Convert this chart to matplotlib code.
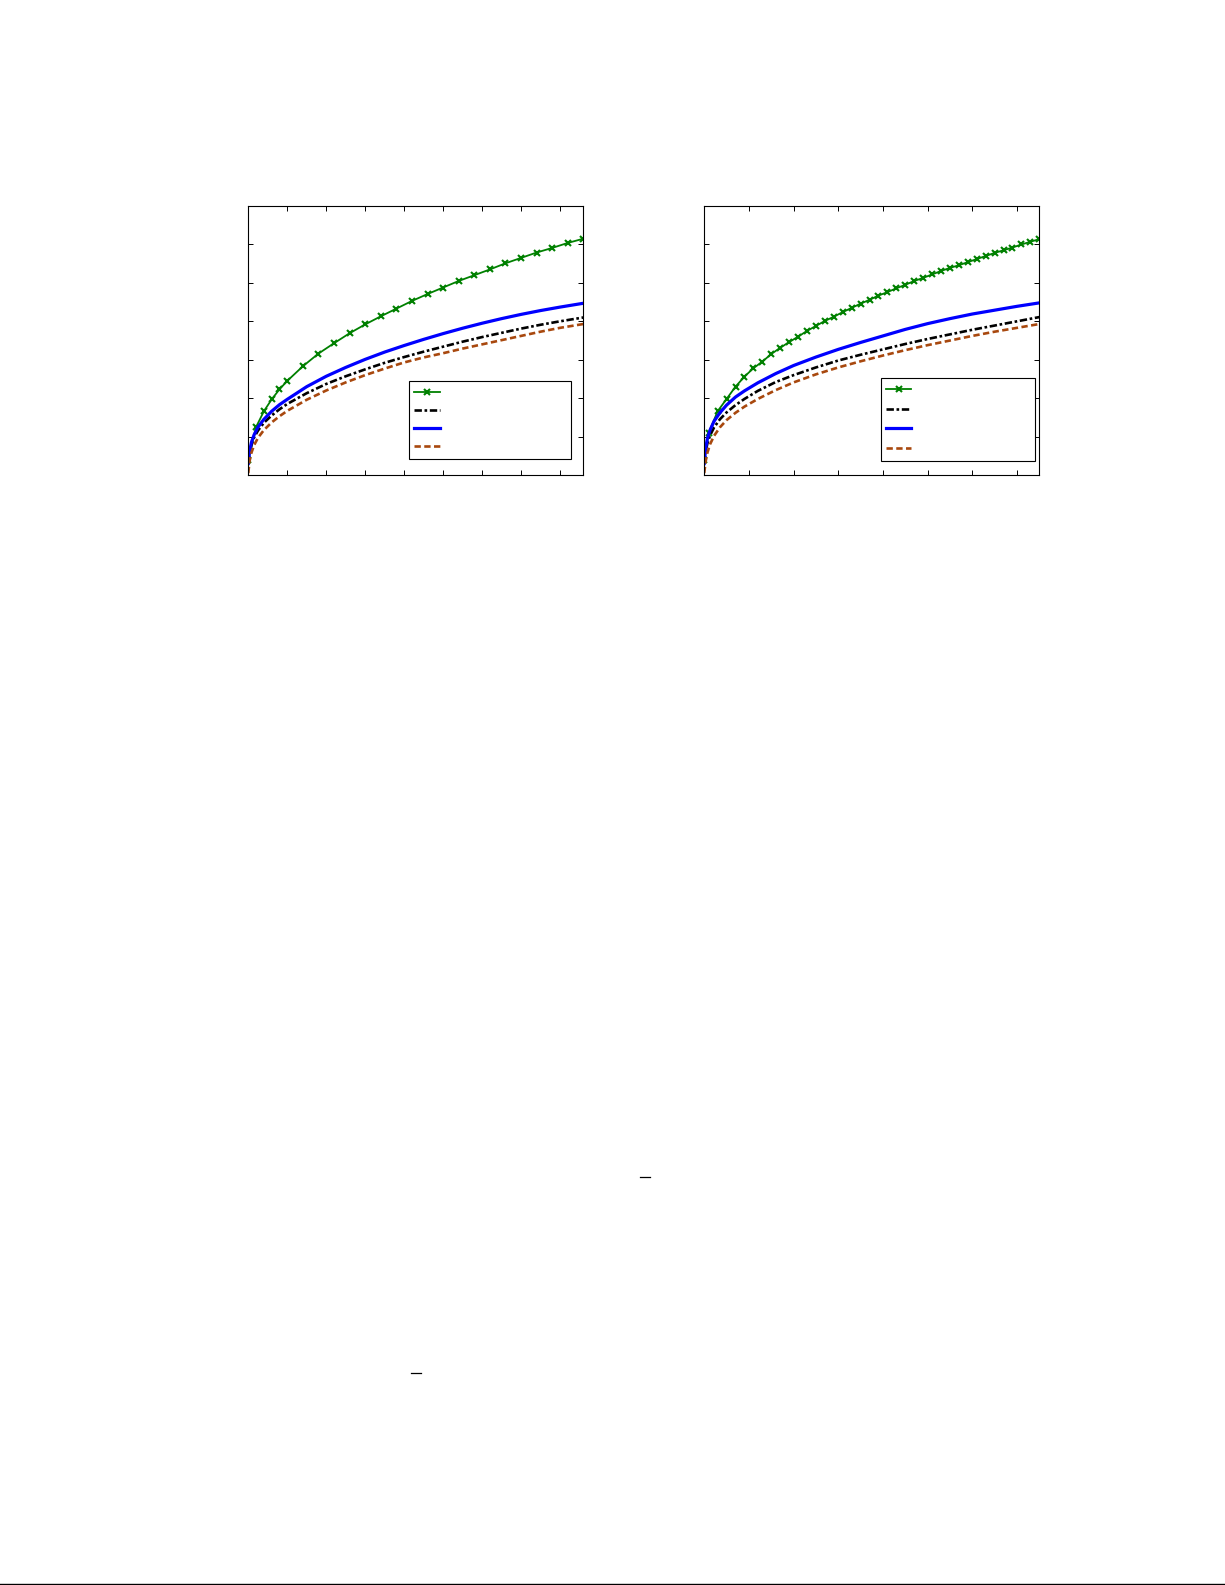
# %%
# Two growth-curve panels, page-style layout (labels stripped)
import matplotlib.pyplot as plt
from matplotlib.lines import Line2D

# left panel, x axis runs 0..8.6
x_green_l = [0, 0.2, 0.4, 0.6, 0.8, 1.0, 1.4, 1.8, 2.2, 2.6, 3.0, 3.4, 3.8,
             4.2, 4.6, 5.0, 5.4, 5.8, 6.2, 6.6, 7.0, 7.4, 7.8, 8.2, 8.6]
green_l = [0.4, 1.25, 1.66, 1.97, 2.23, 2.45, 2.83, 3.16, 3.43, 3.69, 3.92, 4.13, 4.33,
           4.53, 4.71, 4.88, 5.05, 5.20, 5.35, 5.51, 5.65, 5.79, 5.91, 6.04, 6.15]

x_curve_l = [0, 0.03, 0.08, 0.15, 0.25, 0.4, 0.6, 0.8, 1.0, 1.5, 2.0, 2.5, 3.0, 3.5,
             4.0, 4.5, 5.0, 5.5, 6.0, 6.5, 7.0, 7.5, 8.0, 8.6]
blue_l = [0.3, 0.6, 0.85, 1.05, 1.25, 1.45, 1.66, 1.83, 1.97, 2.3, 2.57, 2.8, 3.01, 3.2,
          3.37, 3.53, 3.68, 3.82, 3.95, 4.07, 4.18, 4.28, 4.37, 4.47]
black_l = [0.3, 0.55, 0.78, 0.98, 1.16, 1.36, 1.55, 1.71, 1.85, 2.13, 2.37, 2.57, 2.75, 2.92,
           3.07, 3.21, 3.34, 3.47, 3.59, 3.7, 3.81, 3.91, 4.0, 4.1]
orange_l = [0.05, 0.35, 0.58, 0.78, 0.97, 1.17, 1.37, 1.53, 1.67, 1.96, 2.2, 2.41, 2.6, 2.77,
            2.93, 3.06, 3.17, 3.29, 3.4, 3.51, 3.62, 3.73, 3.83, 3.93]

# right panel, x axis runs 0..7.5
x_green_r = [0, 0.1, 0.3, 0.5, 0.7, 0.9, 1.1, 1.3, 1.5, 1.7, 1.9, 2.1, 2.3, 2.5,
             2.7, 2.9, 3.1, 3.3, 3.5, 3.7, 3.9, 4.1, 4.3, 4.5, 4.7, 4.9, 5.1,
             5.3, 5.5, 5.7, 5.9, 6.1, 6.3, 6.5, 6.7, 6.9, 7.1, 7.3, 7.5]
green_r = [0.4, 1.1, 1.66, 1.98, 2.3, 2.56, 2.78, 2.95, 3.15, 3.31, 3.46, 3.6, 3.75, 3.88,
           4.01, 4.12, 4.24, 4.35, 4.46, 4.56, 4.67, 4.76, 4.86, 4.95, 5.05, 5.13, 5.22,
           5.31, 5.39, 5.46, 5.54, 5.62, 5.7, 5.78, 5.85, 5.92, 6.0, 6.07, 6.14]

x_curve_r = [0, 0.03, 0.07, 0.13, 0.22, 0.35, 0.5, 0.7, 0.9, 1.2, 1.6, 2.0, 2.5, 3.0,
             3.5, 4.0, 4.5, 5.0, 5.5, 6.0, 6.5, 7.0, 7.5]
blue_r = [0.3, 0.68, 0.95, 1.17, 1.4, 1.62, 1.82, 2.03, 2.19, 2.4, 2.64, 2.85, 3.07, 3.27,
          3.45, 3.62, 3.79, 3.94, 4.07, 4.19, 4.29, 4.39, 4.48]
black_r = [0.3, 0.6, 0.82, 1.03, 1.24, 1.45, 1.63, 1.82, 1.98, 2.19, 2.42, 2.6, 2.8, 2.98,
           3.13, 3.27, 3.41, 3.54, 3.66, 3.78, 3.89, 4.0, 4.11]
orange_r = [0.05, 0.35, 0.58, 0.8, 1.02, 1.24, 1.43, 1.62, 1.78, 1.98, 2.21, 2.41, 2.62, 2.8,
            2.96, 3.11, 3.25, 3.38, 3.5, 3.62, 3.73, 3.83, 3.93]

green_c = '#008000'
blue_c = '#0000ff'
black_c = '#000000'
orange_c = '#a8480e'

fig = plt.figure(figsize=(12.25, 15.85), dpi=100)

panels = [
    # (left, xmax, green x, green y, curve x, blue, black, orange, legend box, label spacing)
    (0.2027, 8.6, x_green_l, green_l, x_curve_l, blue_l, black_l, orange_l,
     (0.48, 0.059, 0.483, 0.305), 0.3),
    (0.5749, 7.5, x_green_r, green_r, x_curve_r, blue_r, black_r, orange_r,
     (0.527, 0.052, 0.46, 0.346), 0.42),
]

for left, xmax, xg, g, xc, b, k, o, lbox, lsp in panels:
    ax = fig.add_axes([left, 0.7003, 0.2735, 0.1697])
    h1, = ax.plot(xg, g, color=green_c, lw=1.3, marker='x', ms=5, mew=1.5)
    h2, = ax.plot(xc, k, color=black_c, lw=1.9, dashes=(2.8, 1.0, 1.0, 1.0))
    h3, = ax.plot(xc, b, color=blue_c, lw=2.3)
    h4, = ax.plot(xc, o, color=orange_c, lw=1.9, dashes=(2.4, 1.3))
    ax.set_xlim(0, xmax)
    ax.set_ylim(0, 7)
    ax.set_xticks(range(0, int(xmax) + 1))
    ax.set_yticks(range(0, 8))
    ax.tick_params(direction='in', length=3.5, width=0.7, top=True, right=True,
                   labelbottom=False, labelleft=False)
    for s in ax.spines.values():
        s.set_linewidth(0.8)
    leg = ax.legend([h1, h2, h3, h4], ['', '', '', ''], loc='lower left',
                    bbox_to_anchor=lbox, mode='expand', borderaxespad=0,
                    fontsize=10, handlelength=1.85, labelspacing=lsp,
                    borderpad=0.35, fancybox=False, framealpha=1)
    leg.get_frame().set_edgecolor('black')
    leg.get_frame().set_linewidth(0.8)

# stray overbars left over from the page text, and the page rule
fig.add_artist(Line2D([640 / 1225, 650 / 1225], [1 - 1177 / 1585] * 2, color='black', lw=0.9))
fig.add_artist(Line2D([411 / 1225, 421 / 1225], [1 - 1373 / 1585] * 2, color='black', lw=0.9))
fig.add_artist(Line2D([0, 1224 / 1225], [1 - 1583.5 / 1585] * 2, color='black', lw=1.0))

plt.savefig('out.png', dpi=100)
